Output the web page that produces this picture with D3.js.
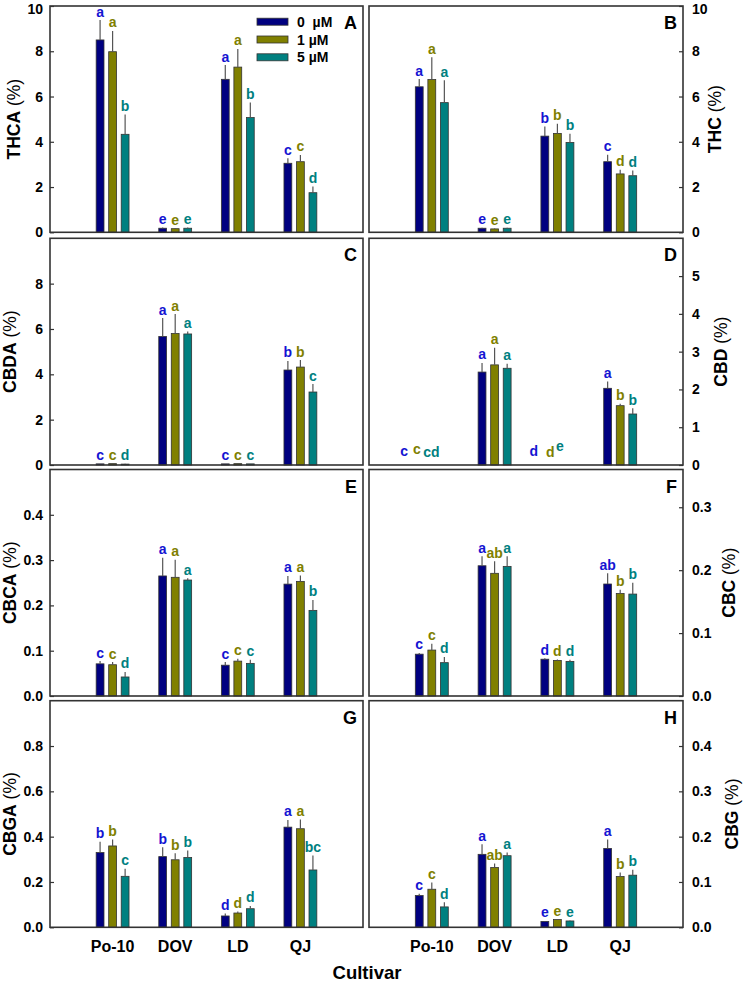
<!DOCTYPE html>
<html><head><meta charset="utf-8">
<script src="https://cdn.jsdelivr.net/npm/d3@7"></script>
<style>body{margin:0;background:#fff} text{font-family:"Liberation Sans",Arial,sans-serif}</style>
</head><body><svg id="c" width="744" height="982"></svg>
<script>
// ---------------- DATA ----------------
const cultivars = ["Po-10", "DOV", "LD", "QJ"];
const treatments = ["0  µM", "1 µM", "5 µM"];

const thcaMean = [[8.50, 7.98, 4.33], [0.18, 0.16, 0.18], [6.76, 7.30, 5.07], [3.05, 3.12, 1.75]];
const thcaErr  = [[0.88, 0.92, 0.88], [0.03, 0.03, 0.03], [0.63, 0.80, 0.67], [0.22, 0.30, 0.27]];
const thcaSig  = [["a","a","b"], ["e","e","e"], ["a","a","b"], ["c","c","d"]];

const thcMean = [[6.43, 6.75, 5.73], [0.18, 0.15, 0.18], [4.25, 4.37, 3.97], [3.12, 2.58, 2.50]];
const thcErr  = [[0.34, 0.98, 0.99], [0.02, 0.02, 0.02], [0.43, 0.43, 0.39], [0.31, 0.18, 0.23]];
const thcSig  = [["a","a","a"], ["e","e","e"], ["b","b","b"], ["c","d","d"]];

const cbdaMean = [[0.05, 0.06, 0.04], [5.67, 5.80, 5.78], [0.05, 0.06, 0.05], [4.19, 4.32, 3.22]];
const cbdaErr  = [[0.01, 0.01, 0.01], [0.81, 0.86, 0.11], [0.01, 0.01, 0.01], [0.40, 0.31, 0.35]];
const cbdaSig  = [["c","c","d"], ["a","a","a"], ["c","c","c"], ["b","b","c"]];

const cbdMean = [[0, 0, 0], [2.46, 2.65, 2.56], [0, 0, 0], [2.03, 1.57, 1.35]];
const cbdErr  = [[0, 0, 0], [0.24, 0.45, 0.12], [0, 0, 0], [0.18, 0.05, 0.15]];
const cbdSig  = [["c","c","cd"], ["a","a","a"], ["d","d","e"], ["a","b","b"]];

const cbcaMean = [[0.071, 0.069, 0.042], [0.265, 0.262, 0.256], [0.068, 0.077, 0.072], [0.247, 0.253, 0.189]];
const cbcaErr  = [[0.006, 0.006, 0.011], [0.040, 0.039, 0.004], [0.007, 0.005, 0.008], [0.018, 0.013, 0.023]];
const cbcaSig  = [["c","c","d"], ["a","a","a"], ["c","c","c"], ["a","a","b"]];

const cbcMean = [[0.0665, 0.073, 0.053], [0.207, 0.195, 0.206], [0.0585, 0.0565, 0.055], [0.178, 0.163, 0.162]];
const cbcErr  = [[0.002, 0.010, 0.009], [0.015, 0.019, 0.016], [0.0015, 0.0015, 0.0025], [0.017, 0.006, 0.018]];
const cbcSig  = [["c","c","d"], ["a","ab","a"], ["d","d","d"], ["ab","b","b"]];

const cbgaMean = [[0.330, 0.359, 0.225], [0.312, 0.298, 0.308], [0.050, 0.063, 0.082], [0.442, 0.435, 0.253]];
const cbgaErr  = [[0.048, 0.029, 0.033], [0.041, 0.029, 0.031], [0.011, 0.007, 0.012], [0.032, 0.041, 0.064]];
const cbgaSig  = [["b","b","c"], ["b","b","b"], ["d","d","d"], ["a","a","bc"]];

const cbgMean = [[0.070, 0.084, 0.045], [0.161, 0.132, 0.158], [0.013, 0.017, 0.014], [0.174, 0.112, 0.115]];
const cbgErr  = [[0.004, 0.015, 0.010], [0.022, 0.009, 0.007], [0.001, 0.001, 0.001], [0.020, 0.009, 0.012]];
const cbgSig  = [["c","c","d"], ["a","ab","a"], ["e","e","e"], ["a","b","b"]];

const ticksInt10 = [0, 2, 4, 6, 8, 10];
const ticksInt8  = [0, 2, 4, 6, 8];
const ticksInt5  = [0, 1, 2, 3, 4, 5];
const ticksP4    = [0, 0.1, 0.2, 0.3, 0.4];
const ticksP3    = [0, 0.1, 0.2, 0.3];
const ticksP8    = [0, 0.2, 0.4, 0.6, 0.8];

// ---------------- STYLE / LAYOUT ----------------
const barColors = ["#000080", "#808000", "#008080"];
const sigColors = ["#1414d2", "#808000", "#008080"];
const colX = [[50, 363], [369, 683]];
const rowY = [[6, 232.3], [238.3, 465], [469.5, 696], [700.7, 927.3]];

const panels = [
  {id:"A", name:"THCA", col:0, row:0, max:10,   ticks:ticksInt10, fmt:d3.format("d"),   mean:thcaMean, err:thcaErr, sig:thcaSig, lab:14},
  {id:"B", name:"THC",  col:1, row:0, max:10,   ticks:ticksInt10, fmt:d3.format("d"),   mean:thcMean,  err:thcErr,  sig:thcSig,  lab:715},
  {id:"C", name:"CBDA", col:0, row:1, max:10,   ticks:ticksInt8,  fmt:d3.format("d"),   mean:cbdaMean, err:cbdaErr, sig:cbdaSig, lab:10},
  {id:"D", name:"CBD",  col:1, row:1, max:6,    ticks:ticksInt5,  fmt:d3.format("d"),   mean:cbdMean,  err:cbdErr,  sig:cbdSig,  lab:721},
  {id:"E", name:"CBCA", col:0, row:2, max:0.5,  ticks:ticksP4,    fmt:d3.format(".1f"), mean:cbcaMean, err:cbcaErr, sig:cbcaSig, lab:10},
  {id:"F", name:"CBC",  col:1, row:2, max:0.36, ticks:ticksP3,    fmt:d3.format(".1f"), mean:cbcMean,  err:cbcErr,  sig:cbcSig,  lab:729},
  {id:"G", name:"CBGA", col:0, row:3, max:1.0,  ticks:ticksP8,    fmt:d3.format(".1f"), mean:cbgaMean, err:cbgaErr, sig:cbgaSig, lab:10},
  {id:"H", name:"CBG",  col:1, row:3, max:0.5,  ticks:ticksP4,    fmt:d3.format(".1f"), mean:cbgMean,  err:cbgErr,  sig:cbgSig,  lab:732}
];
// label nudges for the zero-valued groups in panel D
const nudgeD = {dx:[[-15,-15,-13],[0,0,0],[-11,-7,-10],[0,0,0]], dy:[[-6,-8,-5],[0,0,0],[-6,-5,-11],[0,0,0]]};

const svg = d3.select("#c");

panels.forEach(p => {
  const [x0, x1] = colX[p.col];
  const [yT, yB] = rowY[p.row];
  const x = d3.scaleLinear().domain([0, 5]).range([x0, x1]);
  const y = d3.scaleLinear().domain([0, p.max]).range([yB, yT]);
  const g = svg.append("g");
  const pos = (i, j) => x(i + 1 + (j - 1) * 0.2);
  const bw = x(0.125) - x(0);

  // bars
  p.mean.forEach((row, i) => row.forEach((v, j) => {
    g.append("rect").attr("x", pos(i, j) - bw / 2).attr("y", y(v))
      .attr("width", bw).attr("height", Math.max(0, y(0) - y(v)))
      .attr("fill", barColors[j]).attr("stroke", "#333").attr("stroke-width", 0.8);
    const e = p.err[i][j];
    if (e > 0) {
      g.append("line").attr("x1", pos(i, j)).attr("x2", pos(i, j))
        .attr("y1", y(v)).attr("y2", y(v + e)).attr("stroke", "#555").attr("stroke-width", 1.2);
    }
    let dx = 0, dy = 0;
    if (p.id === "D") { dx = nudgeD.dx[i][j]; dy = nudgeD.dy[i][j]; }
    g.append("text").attr("x", pos(i, j) + dx).attr("y", y(v + e) - 3.5 + dy)
      .attr("text-anchor", "middle").attr("font-size", 14).attr("font-weight", "bold")
      .attr("fill", sigColors[j]).text(p.sig[i][j]);
  }));

  // frame
  g.append("rect").attr("x", x0).attr("y", yT).attr("width", x1 - x0).attr("height", yB - yT)
    .attr("fill", "none").attr("stroke", "#333").attr("stroke-width", 1.6);

  // axis
  const axis = p.col === 0
    ? d3.axisLeft(y).tickValues(p.ticks).tickFormat(p.fmt).tickSize(-4).tickPadding(7)
    : d3.axisRight(y).tickValues(p.ticks).tickFormat(p.fmt).tickSize(-4).tickPadding(9);
  const ag = g.append("g").attr("transform", `translate(${p.col === 0 ? x0 : x1},0)`).call(axis);
  ag.select(".domain").remove();
  ag.selectAll(".tick line").attr("stroke", "#333").attr("stroke-width", 1.2);
  ag.selectAll(".tick text").attr("font-size", 14).attr("font-weight", "bold").attr("fill", "#000")
    .style("font-family", '"Liberation Sans",Arial,sans-serif')
    .attr("dy", d => (p.row === 0 && d === p.max) ? "0.5em" : "0.32em");

  // panel letter
  g.append("text").attr("x", x1 - 6).attr("y", yT + 23).attr("text-anchor", "end")
    .attr("font-size", 18).attr("font-weight", "bold").text(p.id);

  // y label
  const t = g.append("text").attr("transform", `translate(${p.lab},${(yT + yB) / 2}) rotate(-90)`)
    .attr("text-anchor", "middle").attr("dominant-baseline", "central").attr("font-size", 17.5);
  t.append("tspan").attr("font-weight", "bold").text(p.name);
  t.append("tspan").text(" (%)");

  // x tick labels on bottom row
  if (p.row === 3) {
    cultivars.forEach((c, i) => {
      g.append("text").attr("x", x(i + 1)).attr("y", 952).attr("text-anchor", "middle")
        .attr("font-size", 16).attr("font-weight", "bold").text(c);
    });
  }

  // legend in A
  if (p.id === "A") {
    treatments.forEach((tname, j) => {
      const ly = 21.7 + j * 17.8;
      g.append("rect").attr("x", 257).attr("y", ly - 3.5).attr("width", 31).attr("height", 7)
        .attr("fill", barColors[j]).attr("stroke", "#333").attr("stroke-width", 0.8);
      g.append("text").attr("x", 297).attr("y", ly + 5).attr("font-size", 14)
        .attr("font-weight", "bold").attr("xml:space", "preserve").style("white-space", "pre").text(tname);
    });
  }
});

svg.append("text").attr("x", 367).attr("y", 979).attr("text-anchor", "middle")
  .attr("font-size", 18.5).attr("font-weight", "bold").text("Cultivar");
</script></body></html>
